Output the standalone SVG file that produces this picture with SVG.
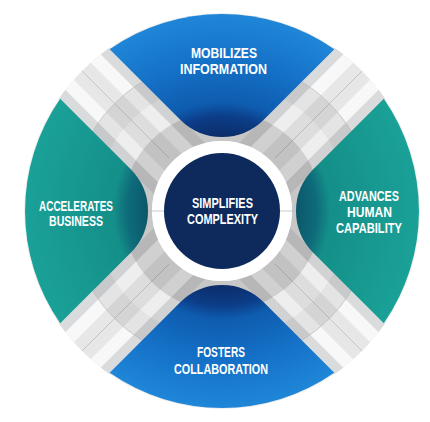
<svg xmlns="http://www.w3.org/2000/svg" width="430" height="422" viewBox="0 0 430 422">
<style>
.lbl{font-family:"Liberation Sans",Arial,sans-serif;font-weight:700;font-size:14px;fill:#ffffff;text-anchor:middle}
.hair{stroke:#bdbec0;stroke-width:0.8;fill:none}
</style>
<defs>
<radialGradient id="gBlue" gradientUnits="userSpaceOnUse" cx="0" cy="0" r="197">
<stop offset="0.37" stop-color="#0b2c66"/>
<stop offset="0.48" stop-color="#0c3d88"/>
<stop offset="0.55" stop-color="#0e5caf"/>
<stop offset="0.75" stop-color="#1470c6"/>
<stop offset="1" stop-color="#1f86d8"/>
</radialGradient>
<radialGradient id="gTeal" gradientUnits="userSpaceOnUse" cx="0" cy="0" r="197">
<stop offset="0.37" stop-color="#0b5669"/>
<stop offset="0.48" stop-color="#0e6b79"/>
<stop offset="0.55" stop-color="#148f89"/>
<stop offset="1" stop-color="#1aa197"/>
</radialGradient>
<clipPath id="disc"><circle cx="0" cy="0" r="198"/></clipPath>
<path id="wedge" d="M -112.3,-161.8 A 197 197 0 0 1 112.3,-161.8 L 42,-91.5 Q 24.5,-74 0,-74 Q -24.5,-74 -42,-91.5 Z"/>
<g id="band">
<rect x="-200" y="-36" width="400" height="72" fill="#e7e7e8"/>
<rect x="-200" y="-36" width="400" height="11" fill="#dadbdc"/>
<rect x="-200" y="25" width="400" height="11" fill="#dadbdc"/>
<rect x="-200" y="-25" width="400" height="13" fill="#f8f8f8"/>
<rect x="-200" y="12" width="400" height="13" fill="#f8f8f8"/>
<line class="hair" x1="75" y1="0" x2="200" y2="0"/>
<line class="hair" x1="-75" y1="0" x2="-200" y2="0"/>
</g>
</defs>

<g id="backdrop" transform="translate(222,211)">
<g clip-path="url(#disc)">
<circle r="198" fill="#ededee"/>
<use href="#band" transform="rotate(45)"/>
<use href="#band" transform="rotate(-45)"/>
<circle r="85" fill="none" stroke="#000" stroke-opacity="0.16" stroke-width="30"/>
<circle r="114" fill="none" stroke="#000" stroke-opacity="0.04" stroke-width="28"/>
<circle r="140" fill="none" stroke="#000" stroke-opacity="0.08" stroke-width="24"/>
<circle class="hair" r="152"/>
</g>
<circle r="70" fill="#ffffff"/>
<line class="hair" x1="-80" y1="0" x2="80" y2="0"/>
</g>

<g id="center">
<circle cx="222" cy="211" r="58" fill="#0e2a5c"/>
<text class="lbl" x="222.5" y="208" textLength="61" lengthAdjust="spacingAndGlyphs">SIMPLIFIES</text>
<text class="lbl" x="222.5" y="224" textLength="71" lengthAdjust="spacingAndGlyphs">COMPLEXITY</text>
</g>

<g id="mobilizes">
<use href="#wedge" transform="translate(222,211)" fill="url(#gBlue)"/>
<text class="lbl" x="224" y="58" textLength="66" lengthAdjust="spacingAndGlyphs">MOBILIZES</text>
<text class="lbl" x="223.5" y="74" textLength="87" lengthAdjust="spacingAndGlyphs">INFORMATION</text>
</g>

<g id="advances">
<use href="#wedge" transform="translate(222,211) rotate(90)" fill="url(#gTeal)"/>
<text class="lbl" x="369" y="201" textLength="60" lengthAdjust="spacingAndGlyphs">ADVANCES</text>
<text class="lbl" x="369.5" y="217" textLength="45" lengthAdjust="spacingAndGlyphs">HUMAN</text>
<text class="lbl" x="369" y="233" textLength="66" lengthAdjust="spacingAndGlyphs">CAPABILITY</text>
</g>

<g id="fosters">
<use href="#wedge" transform="translate(222,211) rotate(180)" fill="url(#gBlue)"/>
<text class="lbl" x="221" y="357" textLength="48" lengthAdjust="spacingAndGlyphs">FOSTERS</text>
<text class="lbl" x="221" y="374" textLength="94" lengthAdjust="spacingAndGlyphs">COLLABORATION</text>
</g>

<g id="accelerates">
<use href="#wedge" transform="translate(222,211) rotate(270)" fill="url(#gTeal)"/>
<text class="lbl" x="76" y="210.5" textLength="74" lengthAdjust="spacingAndGlyphs">ACCELERATES</text>
<text class="lbl" x="76" y="226.3" textLength="54" lengthAdjust="spacingAndGlyphs">BUSINESS</text>
</g>
</svg>
